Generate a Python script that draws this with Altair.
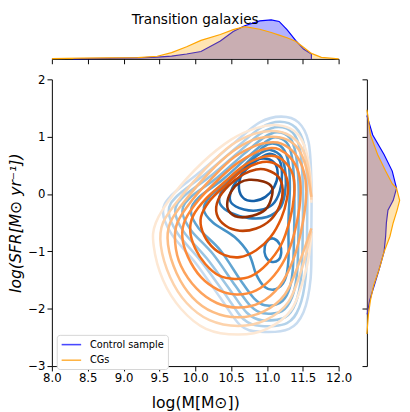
import altair as alt
import pandas as pd

# ---------------- marginal KDEs (density, arbitrary units) ----------------
top_blue_x = [8.3, 8.42, 8.79, 9.20, 9.47, 9.67, 9.88, 10.08, 10.35, 10.53, 10.69, 10.90, 11.06, 11.17, 11.28, 11.40, 11.51, 11.62, 11.621]
top_blue_d = [0.0, 0.005, 0.013, 0.025, 0.043, 0.07, 0.125, 0.19, 0.46, 0.70, 0.85, 0.975, 1.0, 0.96, 0.75, 0.475, 0.25, 0.125, 0.0]
top_orange_x = [8.0, 8.42, 8.79, 9.20, 9.47, 9.67, 9.88, 10.08, 10.35, 10.53, 10.69, 10.90, 11.06, 11.17, 11.28, 11.40, 11.51, 11.62, 11.76, 12.0]
top_orange_d = [0.008, 0.02, 0.025, 0.033, 0.068, 0.16, 0.31, 0.475, 0.625, 0.75, 0.825, 0.76, 0.675, 0.61, 0.54, 0.45, 0.30, 0.14, 0.04, 0.0]

right_blue_y = [1.37, 1.03, 0.69, 0.40, 0.18, 0.10, -0.11, -0.28, -0.50, -0.74, -1.01, -1.30, -1.59, -1.86, -2.10]
right_blue_d = [0.0, 0.15, 0.44, 0.65, 0.73, 0.76, 0.675, 0.54, 0.50, 0.48, 0.44, 0.32, 0.19, 0.07, 0.008]
right_orange_y = [1.47, 1.37, 1.03, 0.69, 0.40, 0.18, 0.10, -0.11, -0.28, -0.50, -0.74, -1.01, -1.30, -1.59, -1.86, -2.10, -2.44]
right_orange_d = [0.0, 0.025, 0.09, 0.275, 0.48, 0.65, 0.76, 0.84, 0.775, 0.675, 0.59, 0.44, 0.32, 0.175, 0.09, 0.04, 0.0]

# ---------------- contour lines (x = log M, y = log SFR) ----------------
# Control sample (Blues), outer -> inner
B0 = [(11.20, 1.35), (11.44, 1.25), (11.58, 0.91), (11.62, 0.23), (11.62, -0.62), (11.61, -1.47), (11.51, -2.06), (11.31, -2.35), (10.90, -2.40), (10.63, -2.29), (10.35, -1.81), (10.01, -1.21), (9.67, -0.70), (9.55, -0.31), (9.67, -0.02), (10.08, 0.40), (10.56, 0.91), (10.90, 1.25)]
B1 = [(11.18, 1.26), (11.40, 1.16), (11.52, 0.85), (11.56, 0.22), (11.56, -0.62), (11.54, -1.45), (11.45, -1.98), (11.28, -2.25), (10.92, -2.30), (10.67, -2.18), (10.42, -1.75), (10.08, -1.17), (9.75, -0.68), (9.63, -0.30), (9.75, -0.03), (10.15, 0.36), (10.60, 0.84), (10.92, 1.16)]
B2 = [(11.16, 1.17), (11.36, 1.07), (11.46, 0.78), (11.50, 0.20), (11.50, -0.62), (11.48, -1.42), (11.40, -1.90), (11.25, -2.15), (10.93, -2.20), (10.72, -2.07), (10.49, -1.68), (10.16, -1.12), (9.84, -0.66), (9.72, -0.30), (9.84, -0.04), (10.22, 0.32), (10.64, 0.77), (10.93, 1.07)]
B3 = [(11.14, 1.08), (11.32, 0.98), (11.40, 0.71), (11.44, 0.18), (11.44, -0.62), (11.42, -1.38), (11.35, -1.80), (11.21, -2.04), (10.95, -2.08), (10.77, -1.95), (10.56, -1.60), (10.25, -1.05), (9.94, -0.63), (9.82, -0.30), (9.94, -0.05), (10.30, 0.28), (10.68, 0.70), (10.95, 0.98)]
B4 = [(11.12, 0.99), (11.28, 0.89), (11.35, 0.64), (11.38, 0.16), (11.38, -0.62), (11.36, -1.33), (11.30, -1.70), (11.18, -1.90), (10.97, -1.94), (10.82, -1.82), (10.63, -1.50), (10.35, -0.98), (10.05, -0.60), (9.94, -0.30), (10.05, -0.06), (10.38, 0.25), (10.72, 0.63), (10.97, 0.90)]
B5 = [(11.08, 0.88), (11.22, 0.80), (11.30, 0.55), (11.32, 0.12), (11.30, -0.50), (11.30, -1.15), (11.25, -1.50), (11.12, -1.66), (10.97, -1.62), (10.85, -1.40), (10.75, -1.05), (10.55, -0.75), (10.25, -0.50), (10.12, -0.28), (10.20, -0.05), (10.45, 0.22), (10.75, 0.58), (10.95, 0.82)]
B6a = [(11.05, 0.77), (11.20, 0.65), (11.26, 0.35), (11.25, 0.0), (11.18, -0.25), (11.0, -0.40), (10.75, -0.42), (10.50, -0.33), (10.35, -0.18), (10.35, 0.0), (10.50, 0.25), (10.75, 0.55), (10.92, 0.72)]
B6b = [(11.10, -0.78), (11.18, -0.88), (11.20, -1.02), (11.16, -1.15), (11.06, -1.18), (10.98, -1.08), (10.97, -0.92), (11.02, -0.80)]
B7 = [(11.02, 0.70), (11.17, 0.60), (11.21, 0.35), (11.18, 0.05), (11.08, -0.18), (10.90, -0.28), (10.68, -0.27), (10.50, -0.15), (10.50, 0.05), (10.62, 0.30), (10.82, 0.55)]
B8 = [(10.95, 0.62), (11.10, 0.55), (11.15, 0.35), (11.10, 0.12), (10.98, -0.05), (10.82, -0.12), (10.68, -0.08), (10.61, 0.10), (10.65, 0.35), (10.78, 0.55)]

# CGs (Oranges), outer -> inner; the outer ones stop at the grid edge
O0 = [(11.62, -0.15), (11.60, 0.40), (11.52, 0.85), (11.38, 1.10), (11.15, 1.20), (10.85, 1.15), (10.50, 0.95), (10.10, 0.55), (9.70, 0.0), (9.45, -0.50), (9.42, -0.90), (9.55, -1.50), (9.80, -2.00), (10.15, -2.35), (10.60, -2.45), (11.00, -2.35), (11.35, -2.00), (11.55, -1.30), (11.62, -0.70)]
O1 = [(11.62, -0.10), (11.58, 0.45), (11.48, 0.82), (11.32, 1.02), (11.10, 1.10), (10.82, 1.05), (10.50, 0.85), (10.15, 0.45), (9.80, -0.05), (9.55, -0.50), (9.52, -0.90), (9.65, -1.45), (9.88, -1.90), (10.20, -2.20), (10.60, -2.30), (10.98, -2.20), (11.30, -1.88), (11.50, -1.25), (11.62, -0.65)]
O2 = [(11.62, -0.05), (11.55, 0.45), (11.44, 0.78), (11.28, 0.95), (11.06, 1.00), (10.80, 0.94), (10.52, 0.74), (10.20, 0.38), (9.88, -0.08), (9.65, -0.50), (9.62, -0.88), (9.74, -1.38), (9.96, -1.80), (10.25, -2.06), (10.60, -2.15), (10.95, -2.05), (11.25, -1.75), (11.45, -1.20), (11.62, -0.60)]
O3 = [(11.20, 0.88), (11.38, 0.72), (11.50, 0.45), (11.55, 0.05), (11.50, -0.50), (11.38, -1.10), (11.18, -1.60), (10.90, -1.90), (10.60, -1.98), (10.30, -1.90), (10.02, -1.65), (9.80, -1.25), (9.72, -0.85), (9.75, -0.50), (9.96, -0.10), (10.25, 0.30), (10.55, 0.65), (10.85, 0.85), (11.03, 0.90)]
O4 = [(11.17, 0.78), (11.33, 0.63), (11.44, 0.38), (11.47, 0.02), (11.42, -0.48), (11.30, -1.00), (11.10, -1.42), (10.85, -1.68), (10.58, -1.75), (10.32, -1.67), (10.08, -1.45), (9.90, -1.10), (9.82, -0.75), (9.86, -0.45), (10.05, -0.10), (10.32, 0.25), (10.60, 0.55), (10.88, 0.75), (11.03, 0.80)]
O5 = [(11.12, 0.66), (11.28, 0.52), (11.37, 0.30), (11.38, -0.02), (11.32, -0.45), (11.20, -0.88), (11.00, -1.22), (10.78, -1.43), (10.55, -1.48), (10.33, -1.42), (10.14, -1.22), (10.00, -0.95), (9.93, -0.65), (9.97, -0.38), (10.15, -0.08), (10.40, 0.20), (10.65, 0.47), (10.90, 0.63)]
O6 = [(11.07, 0.55), (11.22, 0.42), (11.29, 0.20), (11.28, -0.08), (11.20, -0.42), (11.05, -0.75), (10.85, -0.98), (10.62, -1.10), (10.40, -1.06), (10.22, -0.90), (10.10, -0.65), (10.08, -0.40), (10.20, -0.12), (10.42, 0.15), (10.65, 0.40), (10.88, 0.54)]
O7 = [(11.00, 0.42), (11.16, 0.30), (11.22, 0.08), (11.18, -0.20), (11.05, -0.45), (10.85, -0.60), (10.62, -0.64), (10.42, -0.55), (10.30, -0.35), (10.32, -0.10), (10.47, 0.15), (10.68, 0.35), (10.85, 0.43)]
O8 = [(10.75, 0.25), (10.95, 0.22), (11.07, 0.12), (11.06, -0.08), (10.98, -0.27), (10.80, -0.38), (10.60, -0.40), (10.47, -0.30), (10.45, -0.12), (10.52, 0.08), (10.62, 0.20)]

blue_closed = {"B0": B0, "B1": B1, "B2": B2, "B3": B3, "B4": B4, "B5": B5,
               "B6a": B6a, "B6b": B6b, "B7": B7, "B8": B8}
orange_open = {"O0": O0, "O1": O1, "O2": O2}
orange_closed = {"O3": O3, "O4": O4, "O5": O5, "O6": O6, "O7": O7, "O8": O8}

level_colors = {
    "B0": "#c8dcf0", "B1": "#b3d2ea", "B2": "#9cc6e3", "B3": "#80b7db", "B4": "#62a5d2",
    "B5": "#4692c7", "B6a": "#2f7fbd", "B6b": "#2f7fbd", "B7": "#1f6db2", "B8": "#1560a8",
    "O0": "#fde8d4", "O1": "#fdd3ac", "O2": "#fdbd84", "O3": "#fda45e", "O4": "#fd8b3b",
    "O5": "#f3711c", "O6": "#e0570a", "O7": "#c04304", "O8": "#8e2d04",
}

families = ["Control sample", "CGs"]
legend_colors = ["#4848ff", "#ffb444"]


def contour_rows(dct, fam):
    out = []
    for cid, pts in dct.items():
        for i, (x, y) in enumerate(pts):
            out.append({"cid": cid, "family": fam, "i": i, "x": x, "y": y})
    return pd.DataFrame(out)


df_bc = contour_rows(blue_closed, families[0])
df_oo = contour_rows(orange_open, families[1])
df_oc = contour_rows(orange_closed, families[1])
df_all = pd.concat([df_bc, df_oo, df_oc], ignore_index=True)

FONT = "DejaVu Sans"
xticks = [8.0, 8.5, 9.0, 9.5, 10.0, 10.5, 11.0, 11.5, 12.0]
yticks = [-3, -2, -1, 0, 1, 2]
xs = alt.Scale(domain=[8, 12], nice=False, zero=False)
ys = alt.Scale(domain=[-3, 2], nice=False, zero=False)
stroke_scale = alt.Scale(domain=list(level_colors.keys()), range=list(level_colors.values()))

x_axis = alt.Axis(values=xticks, format=".1f", title="log(M[M⊙])", grid=False, tickCount=9,
                  labelOverlap=False, labelFlush=False, labelBound=False,
                  titleFontSize=16, titlePadding=11)
y_axis = alt.Axis(values=yticks, format="d", title="log(SFR[M⊙ yr⁻¹])", grid=False,
                  labelOverlap=False, labelFlush=False, labelBound=False,
                  titleFontSize=16, titleFontStyle="italic", titlePadding=4)


def xm():
    return alt.X("x:Q", scale=xs, axis=x_axis)


def ym():
    return alt.Y("y:Q", scale=ys, axis=y_axis)


W = 294
H = 294

blue_layer = alt.Chart(df_bc).mark_line(interpolate="cardinal-closed", strokeWidth=2.6, clip=True).encode(
    x=xm(), y=ym(), detail="cid:N", order="i:Q",
    stroke=alt.Stroke("cid:N", scale=stroke_scale, legend=None))
orange_open_layer = alt.Chart(df_oo).mark_line(interpolate="cardinal", strokeWidth=2.6, clip=True).encode(
    x=xm(), y=ym(), detail="cid:N", order="i:Q",
    stroke=alt.Stroke("cid:N", scale=stroke_scale, legend=None))
orange_closed_layer = alt.Chart(df_oc).mark_line(interpolate="cardinal-closed", strokeWidth=2.6, clip=True).encode(
    x=xm(), y=ym(), detail="cid:N", order="i:Q",
    stroke=alt.Stroke("cid:N", scale=stroke_scale, legend=None))
legend_layer = alt.Chart(df_all).mark_line(opacity=0, strokeWidth=1.6).encode(
    x=xm(), y=ym(), detail="cid:N", order="i:Q",
    color=alt.Color("family:N", scale=alt.Scale(domain=families, range=legend_colors),
                    legend=alt.Legend(title=None, orient="none", legendX=5, legendY=330,
                                      symbolType="M-1,0H3", symbolSize=100,
                                      symbolOpacity=1, symbolStrokeWidth=1.6,
                                      labelFontSize=10, labelFont=FONT, labelColor="black",
                                      labelOffset=18, rowPadding=5, padding=4,
                                      strokeColor="#d5d5d5", fillColor="white", cornerRadius=3)))

main = alt.layer(blue_layer, orange_open_layer, orange_closed_layer, legend_layer).properties(width=W, height=H)

# ---------------- top marginal ----------------
df_tb = pd.DataFrame({"x": top_blue_x, "d": top_blue_d})
df_to = pd.DataFrame({"x": top_orange_x, "d": top_orange_d})
top_y = alt.Y("d:Q", scale=alt.Scale(domain=[0, 1.175], nice=False, zero=True), axis=None, stack=None)
top_x = alt.X("x:Q", scale=xs, axis=alt.Axis(values=xticks, labels=False, title=None, grid=False))
top = alt.layer(
    alt.Chart(df_tb).mark_area(color="blue", opacity=0.3).encode(x=top_x, y=top_y),
    alt.Chart(df_tb).mark_line(color="blue", strokeWidth=1.2).encode(x=top_x, y=top_y, order="x:Q"),
    alt.Chart(df_to).mark_area(color="orange", opacity=0.3).encode(x=top_x, y=top_y),
    alt.Chart(df_to).mark_line(color="orange", strokeWidth=1.2).encode(x=top_x, y=top_y, order="x:Q"),
).properties(width=W, height=47,
             title=alt.TitleParams("Transition galaxies", fontSize=14, font=FONT, fontWeight="normal",
                                   color="black", anchor="middle", offset=-14))

# ---------------- right marginal ----------------
df_rb = pd.DataFrame({"y": right_blue_y, "d": right_blue_d})
df_ro = pd.DataFrame({"y": right_orange_y, "d": right_orange_d})
r_x = alt.X("d:Q", scale=alt.Scale(domain=[0, 0.875], nice=False, zero=True), axis=None, stack=None)
r_y = alt.Y("y:Q", scale=ys, axis=alt.Axis(values=yticks, labels=False, title=None, grid=False))
right = alt.layer(
    alt.Chart(df_rb).mark_area(color="blue", opacity=0.3, orient="horizontal").encode(x=r_x, y=r_y),
    alt.Chart(df_rb).mark_line(color="blue", strokeWidth=1.2).encode(x=r_x, y=r_y, order="y:Q"),
    alt.Chart(df_ro).mark_area(color="orange", opacity=0.3, orient="horizontal").encode(x=r_x, y=r_y),
    alt.Chart(df_ro).mark_line(color="orange", strokeWidth=1.2).encode(x=r_x, y=r_y, order="y:Q"),
).properties(width=35, height=H)

chart = alt.vconcat(
    top,
    alt.hconcat(main, right, spacing=29, bounds="flush"),
    spacing=21, bounds="flush",
).properties(padding={"left": 0, "top": 0, "right": 0, "bottom": 0}).configure_view(
    stroke=None
).configure_axis(
    labelFont=FONT, titleFont=FONT, labelFontSize=12, labelColor="black", titleColor="black",
    titleFontWeight="normal", domainColor="black", tickColor="black", tickSize=5, labelPadding=2,
    domainWidth=1, tickWidth=1, labelOverlap=False, labelFlush=False
).configure_concat(spacing=21)

chart.save("out.html", embed_options={"renderer": "svg", "actions": False})
